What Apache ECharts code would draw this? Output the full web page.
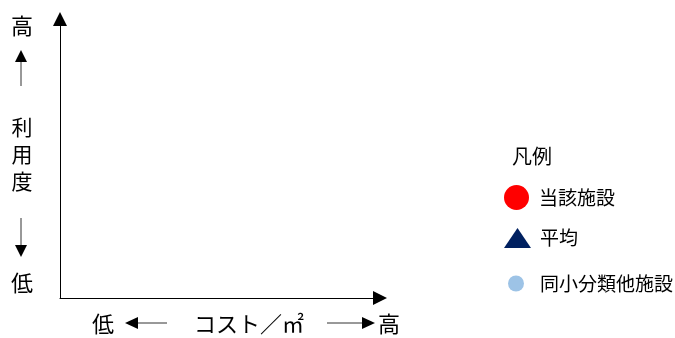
<!DOCTYPE html>
<html>
<head>
<meta charset="utf-8">
<script src="https://cdn.jsdelivr.net/npm/echarts@6/dist/echarts.min.js"></script>
<style>
html,body{margin:0;padding:0;background:#fff;}
#main{width:675px;height:338px;}
</style>
</head>
<body>
<div id="main"></div>
<script>
var seriesNames = ['当該施設', '平均', '同小分類他施設'];
var thisFacilityData = [];
var averageData = [];
var otherFacilityData = [];
var xAxisTitle = 'コスト／㎡';
var yAxisTitle = '利\n用\n度';
var highLabel = '高', lowLabel = '低';
var legendTitle = '凡例';

var font = '"Noto Sans CJK JP", sans-serif';
var myChart = echarts.init(document.getElementById('main'));

function arrowHead(tipX, tipY, dir){
    // small filled head for the label arrows
    var pts;
    if(dir=='up') pts=[[tipX,tipY],[tipX-6,tipY+12],[tipX+6,tipY+12]];
    if(dir=='down') pts=[[tipX,tipY],[tipX-6,tipY-12],[tipX+6,tipY-12]];
    if(dir=='left') pts=[[tipX,tipY],[tipX+13,tipY-6],[tipX+13,tipY+6]];
    if(dir=='right') pts=[[tipX,tipY],[tipX-13,tipY-6],[tipX-13,tipY+6]];
    return {type:'polygon', shape:{points:pts}, style:{fill:'#000'}};
}
function line(x1,y1,x2,y2){
    return {type:'line', shape:{x1:x1,y1:y1,x2:x2,y2:y2}, style:{stroke:'#333', lineWidth:1}};
}
function label(text, x, y, size, align){
    return {type:'text', x:x, y:y, style:{text:text, font:size+'px '+font, fill:'#000',
        align:align||'center', verticalAlign:'middle', lineHeight:27}};
}

var option = {
    animation:false,
    grid:{left:60, top:19, right:295, bottom:40},
    xAxis:{
        type:'value', min:0, max:1,
        axisLine:{show:true, symbol:['none','triangle'], symbolSize:[14,14], lineStyle:{color:'#000', width:1}},
        axisTick:{show:false}, axisLabel:{show:false}, splitLine:{show:false}
    },
    yAxis:{
        type:'value', min:0, max:1,
        axisLine:{show:true, symbol:['none','triangle'], symbolSize:[14,14], lineStyle:{color:'#000', width:1}},
        axisTick:{show:false}, axisLabel:{show:false}, splitLine:{show:false}
    },
    legend:[
        {data:[seriesNames[0]], orient:'vertical', left:504, top:185, padding:0,
         itemWidth:25, itemHeight:25, textStyle:{fontSize:19, color:'#000', fontFamily:font, padding:[0,0,0,5]}},
        {data:[seriesNames[1]], orient:'vertical', left:504, top:228, padding:0,
         itemWidth:27, itemHeight:20, textStyle:{fontSize:19, color:'#000', fontFamily:font, padding:[0,0,0,4]}},
        {data:[seriesNames[2]], orient:'vertical', left:508, top:274, padding:0,
         itemWidth:16, itemHeight:16, textStyle:{fontSize:19, color:'#000', fontFamily:font, padding:[0,0,0,11]}}
    ],
    series:[
        {name:seriesNames[0], type:'scatter', symbol:'circle', symbolSize:14, itemStyle:{color:'#ff0000', opacity:1}, data:thisFacilityData},
        {name:seriesNames[1], type:'scatter', symbol:'triangle', symbolSize:14, itemStyle:{color:'#002060', opacity:1}, data:averageData},
        {name:seriesNames[2], type:'scatter', symbol:'circle', symbolSize:8, itemStyle:{color:'#9dc3e6', opacity:1}, data:otherFacilityData}
    ],
    graphic:[
        label(highLabel, 22, 26, 22),
        line(21, 86, 21, 60), arrowHead(21, 50, 'up'),
        label(yAxisTitle, 22, 154, 21),
        line(21, 218, 21, 247), arrowHead(21, 257, 'down'),
        label(lowLabel, 22, 283, 22),
        label(lowLabel, 103, 324, 22),
        line(137, 323, 167, 323), arrowHead(125, 323, 'left'),
        label(xAxisTitle, 249, 324, 22),
        line(327, 323, 363, 323), arrowHead(375, 323, 'right'),
        label(highLabel, 389, 324, 22),
        label(legendTitle, 512, 156, 20, 'left')
    ]
};
myChart.setOption(option);
</script>
</body>
</html>
